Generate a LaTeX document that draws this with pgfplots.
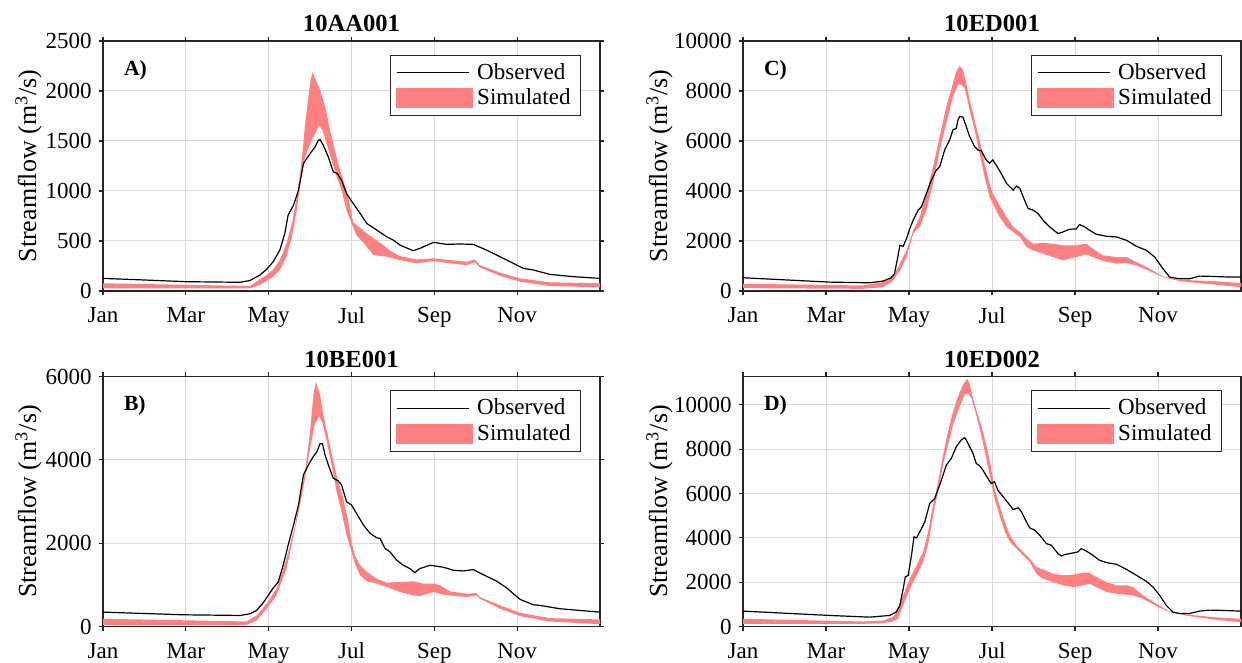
\documentclass[border=0pt]{standalone}
\usepackage{fontspec}
\setmainfont{Liberation Serif}
\usepackage{pgfplots}
\usepackage{pgfplotstable}
\usepgfplotslibrary{fillbetween}
\pgfplotsset{compat=1.18}
\definecolor{simcol}{RGB}{255,128,128}
\definecolor{axcol}{RGB}{38,38,38}

\pgfplotsset{
  panel/.style={
    scale only axis, anchor=south west, width=248.5pt, height=125pt,
    xmin=0, xmax=12, ymin=0,
    xtick={0,2,4,6,8,10}, xticklabels={Jan,Mar,May,Jul,Sep,Nov},
    grid=major, major grid style={line width=0.5pt, draw=black!15},
    axis line style={line width=0.9pt, draw=axcol},
    every tick/.style={line width=0.6pt, draw=axcol},
    tick align=outside, major tick length=2.2pt,
    ylabel={Streamflow (m\textsuperscript{3}/s)},
    ylabel style={font=\fontsize{13}{15}\selectfont, anchor=south, inner sep=0pt},
    tick label style={font=\fontsize{11.5}{13}\selectfont},
    xticklabel style={yshift=-2.5pt},
    /pgf/number format/assume math mode=true,
    /pgf/number format/1000 sep={},
    scaled y ticks=false,
    every axis title shift=0pt,
    title style={font=\bfseries\fontsize{12.3}{14}\selectfont, at={(0.5,1)}, anchor=base, yshift=4.5pt},
    legend style={at={(1,1)}, anchor=north east, xshift=-9.5pt, yshift=-6.9pt,
      draw=axcol, line width=0.5pt, font=\fontsize{11.5}{13}\selectfont,
      inner xsep=3pt, inner ysep=2pt, row sep=-0.8pt},
    legend cell align=left,
  },
  obsleg/.style={legend image code/.code={\draw[black,line width=0.6pt] (0pt,0pt) -- (36pt,0pt);}},
  simleg/.style={legend image code/.code={\fill[simcol] (0pt,-4.75pt) rectangle (38pt,4.75pt);}},
}

% ---------------- 10AA001 ----------------
\pgfplotstableread{
m v
0 126
1.0 110
2.0 93
3.31 87
3.55 105
3.79 160
3.95 216
4.11 293
4.27 409
4.39 575
4.47 760
4.60 858
4.72 1008
4.84 1274
5.00 1374
5.12 1440
5.20 1507
5.24 1514
5.32 1457
5.44 1341
5.56 1191
5.66 1174
5.76 1108
5.88 975
6.04 875
6.21 775
6.37 675
6.61 609
6.85 542
7.01 509
7.17 459
7.49 403
7.65 426
7.98 486
8.30 466
8.62 470
8.94 466
9.26 409
9.75 309
10.15 226
10.39 210
10.79 166
11.36 143
12 126
}\Aobs
\pgfplotstableread{
m v
0 77
3.55 50
3.79 116
3.95 160
4.11 216
4.27 309
4.43 476
4.56 675
4.68 941
4.76 1174
4.83 1440
4.88 1673
4.96 1939
5.01 2106
5.06 2189
5.14 2106
5.24 2013
5.32 1906
5.40 1773
5.48 1607
5.56 1474
5.68 1274
5.80 1108
5.92 941
6.04 688
6.37 575
6.77 459
6.93 403
7.17 349
7.57 316
7.98 326
8.38 309
8.78 293
8.98 316
9.10 259
9.59 183
10.07 126
10.79 87
12 77
}\Aup
\pgfplotstableread{
m v
0 27
3.55 27
3.79 60
3.95 103
4.11 143
4.27 210
4.43 343
4.56 542
4.68 808
4.80 1174
4.88 1341
5.00 1474
5.12 1574
5.22 1657
5.30 1607
5.40 1474
5.52 1307
5.64 1141
5.76 1008
5.88 808
6.00 675
6.12 559
6.37 442
6.53 359
6.85 343
7.17 309
7.57 276
7.98 299
8.38 276
8.78 259
8.98 286
9.10 236
9.59 150
10.07 93
10.79 50
12 37
}\Alo

% ---------------- 10BE001 ----------------
\pgfplotstableread{
m v
0 345
1.94 281
3.31 265
3.55 305
3.71 386
3.87 570
3.99 747
4.11 924
4.23 1068
4.35 1470
4.47 1952
4.60 2434
4.72 2916
4.84 3639
4.96 3880
5.08 4081
5.16 4185
5.24 4386
5.30 4386
5.36 4121
5.44 3880
5.56 3559
5.68 3494
5.76 3398
5.88 2996
6.00 2916
6.12 2715
6.29 2434
6.45 2233
6.61 2129
6.69 2113
6.81 1872
6.93 1791
7.09 1591
7.25 1470
7.41 1390
7.53 1293
7.65 1390
7.90 1470
8.22 1422
8.46 1350
8.70 1334
8.94 1366
9.18 1245
9.51 1085
9.75 924
10.07 651
10.39 522
10.55 506
11.03 426
12 345
}\Bobs
\pgfplotstableread{
m v
0 185
3.47 121
3.71 265
3.95 546
4.19 908
4.43 1631
4.64 2434
4.76 3077
4.88 3719
5.00 4683
5.08 5567
5.14 5872
5.24 5567
5.32 5085
5.44 4523
5.56 3960
5.68 3478
5.80 3077
5.92 2514
6.00 2032
6.08 1711
6.21 1470
6.37 1309
6.61 1149
6.85 1052
7.17 1068
7.49 1085
7.73 1028
7.98 1028
8.14 988
8.38 844
8.78 787
9.02 803
9.10 707
9.59 506
10.07 329
10.79 201
12 169
}\Bup
\pgfplotstableread{
m v
0 40
3.47 40
3.71 145
3.95 426
4.19 747
4.43 1390
4.64 2354
4.76 2916
4.88 3559
5.00 4282
5.12 4884
5.22 5045
5.30 4884
5.40 4442
5.52 3880
5.64 3237
5.76 2755
5.88 2193
6.00 1791
6.08 1510
6.21 1229
6.37 1085
6.61 1028
6.85 948
7.17 827
7.49 747
7.65 731
7.98 827
8.22 763
8.78 707
9.02 747
9.10 667
9.59 426
10.07 249
10.79 121
12 56
}\Blo

% ---------------- 10ED001 ----------------
\pgfplotstableread{
m v
0 529
2.09 355
3.05 328
3.37 395
3.57 529
3.65 689
3.73 1359
3.78 1827
3.86 1787
3.94 2095
4.02 2497
4.10 2831
4.22 3233
4.30 3367
4.42 3902
4.54 4438
4.66 4839
4.74 4973
4.86 5642
4.98 6044
5.06 6446
5.14 6513
5.18 6847
5.22 6981
5.30 6954
5.38 6580
5.46 6178
5.58 5776
5.66 5642
5.74 5616
5.86 5241
5.94 5107
6.02 5241
6.10 5040
6.22 4706
6.35 4304
6.51 4036
6.59 4197
6.67 4103
6.75 3768
6.87 3300
6.99 3233
7.11 3099
7.23 2831
7.39 2564
7.59 2296
7.71 2363
7.87 2470
8.03 2483
8.11 2657
8.23 2564
8.35 2430
8.51 2269
8.76 2189
9.00 2162
9.24 2028
9.48 1787
9.72 1626
9.92 1359
10.12 890
10.28 556
10.52 489
10.76 489
11.00 596
11.33 582
11.73 556
12 556
}\Cobs
\pgfplotstableread{
m v
0 288
2.89 221
3.37 355
3.61 556
3.78 1091
3.94 1626
4.10 2430
4.26 2965
4.42 3902
4.58 4973
4.74 6178
4.90 7383
5.06 8320
5.14 8788
5.22 9000
5.30 8855
5.38 8320
5.46 7650
5.58 6847
5.70 6044
5.82 5107
5.94 4304
6.02 3902
6.18 3434
6.35 2965
6.51 2564
6.67 2363
6.83 2095
6.99 1894
7.23 1921
7.47 1894
7.71 1827
8.03 1827
8.27 1894
8.43 1693
8.67 1426
9.00 1359
9.24 1359
9.48 1158
9.80 890
10.12 582
10.52 448
11.33 395
12 315
}\Cup
\pgfplotstableread{
m v
0 114
2.89 87
3.37 154
3.61 395
3.78 823
3.94 1359
4.10 2296
4.26 2564
4.42 3233
4.58 4304
4.74 5642
4.90 6713
5.06 7784
5.18 8253
5.26 8253
5.34 8119
5.46 7249
5.58 6446
5.70 5509
5.82 4571
5.94 3768
6.02 3501
6.18 2965
6.35 2564
6.51 2363
6.67 2162
6.83 1760
6.99 1626
7.23 1493
7.47 1359
7.71 1225
8.03 1359
8.27 1466
8.43 1359
8.67 1198
9.00 1091
9.24 1118
9.48 1024
9.80 796
10.12 556
10.52 395
11.33 261
12 154
}\Clo

% ---------------- 10ED002 ----------------
\pgfplotstableread{
m v
0 694
2.09 498
3.05 422
3.53 498
3.69 649
3.78 950
3.86 1704
3.91 2232
3.98 2308
4.06 3213
4.12 4042
4.18 3997
4.26 4269
4.38 4721
4.50 5551
4.62 5777
4.74 6380
4.90 7285
5.02 7587
5.14 8115
5.26 8417
5.34 8522
5.38 8417
5.46 8115
5.54 7813
5.62 7361
5.70 7255
5.78 7059
5.90 6682
5.98 6456
6.06 6531
6.14 6154
6.27 5852
6.43 5475
6.51 5279
6.63 5355
6.71 5174
6.83 4721
6.91 4450
7.03 4344
7.15 4118
7.31 3741
7.43 3665
7.59 3288
7.67 3183
7.75 3243
7.95 3318
8.07 3364
8.15 3514
8.27 3409
8.43 3213
8.59 2987
8.76 2881
9.00 2806
9.24 2579
9.48 2308
9.72 2036
9.88 1780
10.04 1403
10.20 950
10.36 649
10.52 588
10.76 588
11.00 694
11.24 739
11.57 724
12 694
}\Dobs
\pgfplotstableread{
m v
0 347
2.89 226
3.37 272
3.61 422
3.73 724
3.86 1403
4.02 2157
4.18 2760
4.34 3364
4.46 4269
4.58 5475
4.70 6531
4.82 7738
4.94 8794
5.06 9699
5.18 10377
5.30 10905
5.40 11177
5.46 10981
5.54 10302
5.66 9548
5.78 8794
5.90 7889
5.98 7135
6.06 6230
6.18 5475
6.31 4721
6.43 4118
6.59 3665
6.75 3364
6.91 3062
7.07 2685
7.23 2579
7.47 2383
7.71 2308
7.95 2338
8.19 2428
8.35 2428
8.51 2232
8.76 2006
9.00 1855
9.24 1855
9.40 1780
9.64 1403
9.96 1026
10.28 679
10.76 528
11.33 422
12 347
}\Dup
\pgfplotstableread{
m v
0 121
2.89 121
3.37 151
3.61 226
3.73 347
3.86 950
4.02 1704
4.18 2308
4.34 2911
4.46 3665
4.58 5023
4.70 6079
4.82 7285
4.94 8190
5.06 9095
5.22 9925
5.34 10453
5.42 10528
5.50 10302
5.62 9548
5.74 8643
5.86 7587
5.98 6531
6.06 5777
6.18 5023
6.31 4269
6.43 3816
6.59 3514
6.75 3213
6.91 2911
7.07 2383
7.23 2157
7.47 2006
7.71 1855
7.95 1780
8.19 1855
8.35 1931
8.51 1780
8.76 1554
9.00 1478
9.24 1433
9.40 1403
9.64 1252
9.96 920
10.28 649
10.76 468
11.33 317
12 196
}\Dlo

\newcommand{\panellabel}[1]{\node[anchor=base west, inner sep=0pt, font=\bfseries\fontsize{10.8}{12}\selectfont, xshift=10.3pt, yshift=-17.25pt] at (rel axis cs:0,1) {#1};}

\begin{document}
\begin{tikzpicture}

% A
\begin{axis}[panel, at={(51.5pt,186pt)}, ymax=2500, ytick={0,500,...,2500}, title={10AA001},
  ylabel style={at={(axis description cs:-0.1227,0.5)}}]
\addlegendimage{obsleg}\addlegendentry{Observed}
\addlegendimage{simleg}\addlegendentry{Simulated}
\addplot[name path=au, draw=none, forget plot] table[x=m,y=v] {\Aup};
\addplot[name path=al, draw=none, forget plot] table[x=m,y=v] {\Alo};
\addplot[fill=simcol, draw=none, forget plot] fill between[of=au and al];
\addplot[black, line width=0.6pt, forget plot] table[x=m,y=v] {\Aobs};
\panellabel{A)}
\end{axis}

% B
\begin{axis}[panel, at={(51.5pt,18.25pt)}, ymax=6000, ytick={0,2000,4000,6000}, title={10BE001},
  ylabel style={at={(axis description cs:-0.1227,0.5)}}]
\addlegendimage{obsleg}\addlegendentry{Observed}
\addlegendimage{simleg}\addlegendentry{Simulated}
\addplot[name path=bu, draw=none, forget plot] table[x=m,y=v] {\Bup};
\addplot[name path=bl, draw=none, forget plot] table[x=m,y=v] {\Blo};
\addplot[fill=simcol, draw=none, forget plot] fill between[of=bu and bl];
\addplot[black, line width=0.6pt, forget plot] table[x=m,y=v] {\Bobs};
\panellabel{B)}
\end{axis}

% C
\begin{axis}[panel, at={(371.5pt,186pt)}, width=249pt, ymax=10000, ytick={0,2000,...,10000}, title={10ED001},
  ylabel style={at={(axis description cs:-0.1406,0.5)}}]
\addlegendimage{obsleg}\addlegendentry{Observed}
\addlegendimage{simleg}\addlegendentry{Simulated}
\addplot[name path=cu, draw=none, forget plot] table[x=m,y=v] {\Cup};
\addplot[name path=cl, draw=none, forget plot] table[x=m,y=v] {\Clo};
\addplot[fill=simcol, draw=none, forget plot] fill between[of=cu and cl];
\addplot[black, line width=0.6pt, forget plot] table[x=m,y=v] {\Cobs};
\panellabel{C)}
\end{axis}

% D
\begin{axis}[panel, at={(371.5pt,18.25pt)}, width=249pt, ymax=11280, ytick={0,2000,...,10000}, title={10ED002},
  ylabel style={at={(axis description cs:-0.1406,0.5)}}]
\addlegendimage{obsleg}\addlegendentry{Observed}
\addlegendimage{simleg}\addlegendentry{Simulated}
\addplot[name path=du, draw=none, forget plot] table[x=m,y=v] {\Dup};
\addplot[name path=dl, draw=none, forget plot] table[x=m,y=v] {\Dlo};
\addplot[fill=simcol, draw=none, forget plot] fill between[of=du and dl];
\addplot[black, line width=0.6pt, forget plot] table[x=m,y=v] {\Dobs};
\panellabel{D)}
\end{axis}

\pgfresetboundingbox
\path[use as bounding box] (0pt,0pt) rectangle (621pt,331.5pt);
\end{tikzpicture}
\end{document}
